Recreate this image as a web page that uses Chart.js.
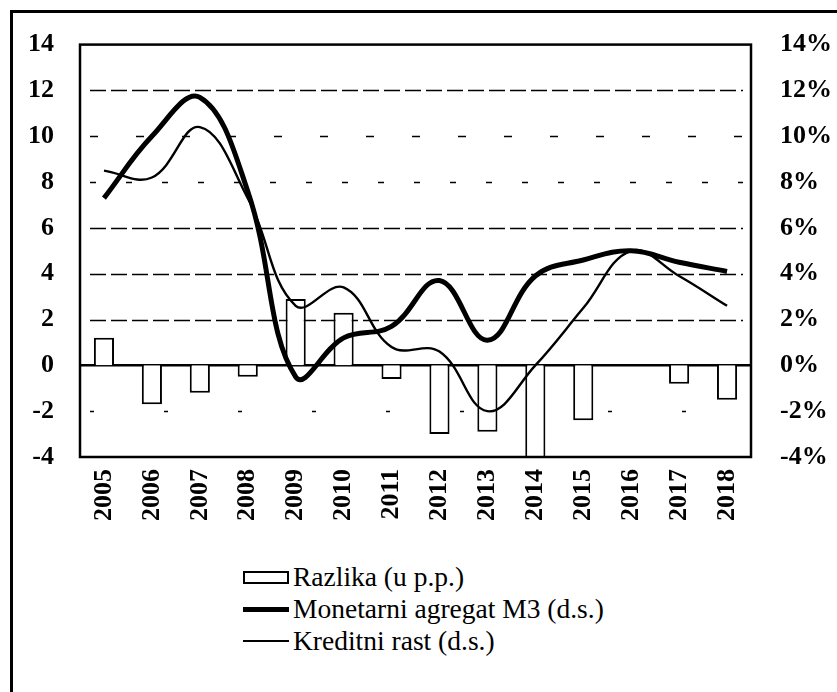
<!DOCTYPE html>
<html>
<head>
<meta charset="utf-8">
<script src="https://cdn.jsdelivr.net/npm/chart.js@4.4.0/dist/chart.umd.min.js"></script>
<style>
  body { margin: 0; background: #fff; font-family: "Liberation Serif", "Times New Roman", serif; }
  #frame { position: absolute; left: 10px; top: 10px; width: 900px; height: 800px;
           border-left: 3px solid #000; border-top: 3px solid #000; }
  #wrap { position: absolute; left: 0; top: 0; width: 837px; height: 545px; }
  #legend { position: absolute; left: 243px; top: 561px; font-family: "Liberation Serif", "Times New Roman", serif;
            font-size: 27.5px; color: #000; }
  .item { display: flex; align-items: center; height: 32px; }
  .sym { width: 46px; margin-right: 4px; box-sizing: border-box; }
</style>
</head>
<body>
<div id="frame"></div>
<div id="wrap"><canvas id="chart"></canvas></div>
<div id="legend"></div>
<script>
// podaci
const godine = ['2005','2006','2007','2008','2009','2010','2011','2012','2013','2014','2015','2016','2017','2018'];
const razlika = [1.2, -1.7, -1.2, -0.5, 2.9, 2.3, -0.6, -3.0, -2.9, -4.3, -2.4, 0, -0.8, -1.5];
const m3 = [7.3, 10.0, 11.7, 7.6, -0.5, 1.2, 1.7, 3.7, 1.1, 3.9, 4.6, 5.0, 4.5, 4.1];
const kreditni = [8.5, 8.2, 10.4, 7.3, 2.6, 3.4, 0.8, 0.6, -2.0, 0, 2.5, 5.0, 3.9, 2.6];
const nazivi = ['Razlika (u p.p.)', 'Monetarni agregat M3 (d.s.)', 'Kreditni rast (d.s.)'];

const font = { family: '"Liberation Serif", "Times New Roman", serif', size: 26, weight: 'bold' };

// isprekidane linije mreze, crta nula i okvir
const mreza = {
  id: 'mreza',
  beforeDatasetsDraw(chart) {
    const ctx = chart.ctx, a = chart.chartArea, y = chart.scales.y;
    const crtice = { '12': [16, 5], '10': [8, 38], '8': [6, 30], '6': [16, 5], '4': [16, 5], '2': [16, 5], '-2': [4, 70] };
    ctx.save();
    ctx.strokeStyle = '#000';
    ctx.lineWidth = 1.3;
    y.ticks.forEach(t => {
      const d = crtice[String(t.value)];
      if (!d) return;
      const py = Math.round(y.getPixelForValue(t.value)) + 0.5;
      ctx.setLineDash(d);
      ctx.beginPath();
      ctx.moveTo(a.left + 10, py);
      ctx.lineTo(a.right - 8, py);
      ctx.stroke();
    });
    ctx.setLineDash([]);
    ctx.lineWidth = 2.5;
    const p0 = y.getPixelForValue(0);
    ctx.beginPath();
    ctx.moveTo(a.left, p0);
    ctx.lineTo(a.right, p0);
    ctx.stroke();
    ctx.restore();
  },
  afterDraw(chart) {
    const ctx = chart.ctx, a = chart.chartArea;
    ctx.save();
    ctx.strokeStyle = '#000';
    ctx.lineWidth = 2.5;
    ctx.strokeRect(a.left, a.top, a.right - a.left, a.bottom - a.top);
    ctx.restore();
  }
};

new Chart(document.getElementById('chart'), {
  data: {
    labels: godine,
    datasets: [
      {
        type: 'line',
        label: nazivi[1],
        data: m3,
        yAxisID: 'y2',
        borderColor: '#000',
        borderWidth: 5,
        pointRadius: 0,
        tension: 0.4,
        order: 1
      },
      {
        type: 'line',
        label: nazivi[2],
        data: kreditni,
        yAxisID: 'y2',
        borderColor: '#000',
        borderWidth: 2.4,
        pointRadius: 0,
        tension: 0.4,
        order: 1
      },
      {
        type: 'bar',
        label: nazivi[0],
        data: razlika,
        yAxisID: 'y',
        backgroundColor: '#fff',
        borderColor: '#000',
        borderWidth: 2,
        categoryPercentage: 1,
        barPercentage: 0.42,
        order: 2
      }
    ]
  },
  options: {
    responsive: true,
    maintainAspectRatio: false,
    animation: false,
    layout: { padding: { top: 36, left: 0, right: 0, bottom: 0 } },
    plugins: { legend: { display: false }, tooltip: { enabled: false } },
    scales: {
      x: {
        grid: { display: false, drawTicks: false },
        border: { display: false },
        ticks: { color: '#000', font: font, minRotation: 90, maxRotation: 90, padding: 12 },
        afterFit(s) { s.height = 88; }
      },
      y: {
        position: 'left',
        min: -4, max: 14,
        grid: { display: false, drawTicks: false },
        border: { display: false },
        ticks: { stepSize: 2, color: '#000', font: font, padding: 26 },
        afterFit(s) { s.width = 80; }
      },
      y2: {
        position: 'right',
        min: -4, max: 14,
        grid: { display: false, drawTicks: false },
        border: { display: false },
        ticks: { stepSize: 2, color: '#000', font: font, padding: 29, callback: v => v + '%' },
        afterFit(s) { s.width = 86; }
      }
    }
  },
  plugins: [mreza]
});

// legenda
const leg = document.getElementById('legend');
nazivi.forEach((n, i) => {
  const red = document.createElement('div');
  red.className = 'item';
  const s = document.createElement('div');
  s.className = 'sym';
  if (i === 0) { s.style.height = '13px'; s.style.border = '2.5px solid #000'; }
  else { s.style.height = i === 1 ? '5px' : '2.5px'; s.style.background = '#000'; }
  const t = document.createElement('span');
  t.textContent = n;
  red.appendChild(s);
  red.appendChild(t);
  leg.appendChild(red);
});
</script>
</body>
</html>
